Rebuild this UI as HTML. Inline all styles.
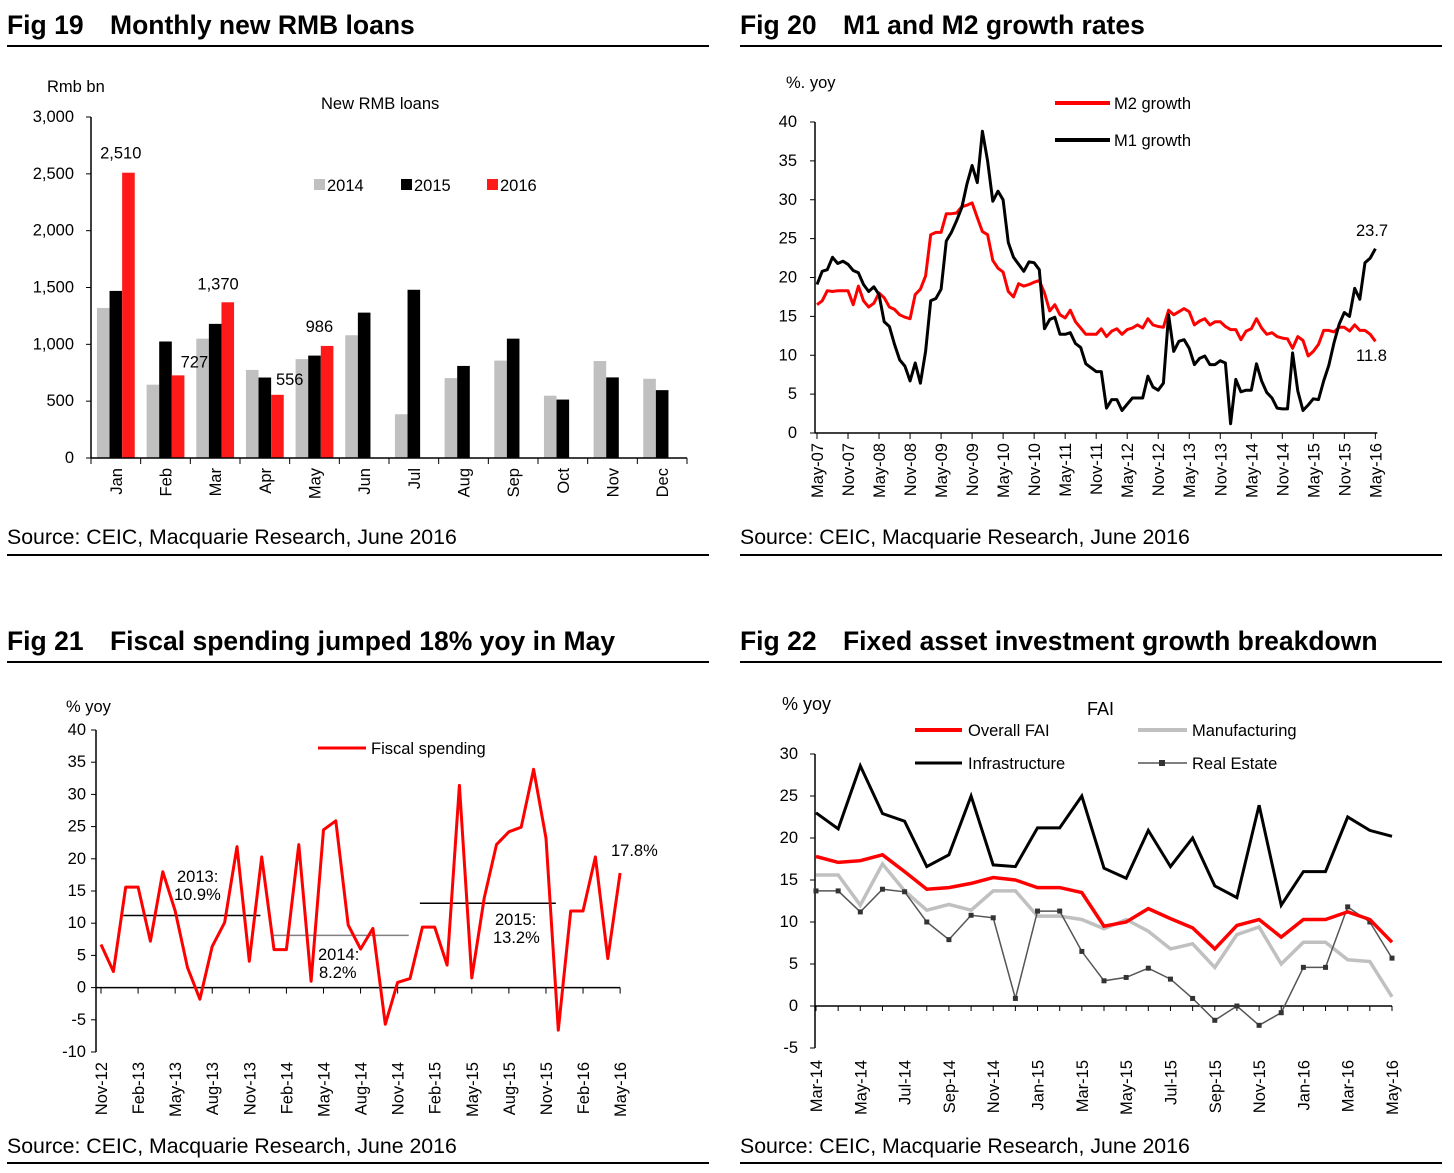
<!DOCTYPE html>
<html><head><meta charset="utf-8"><style>
html,body{margin:0;padding:0;background:#fff;}
svg{display:block;font-family:"Liberation Sans",Arial,sans-serif;}
.t{font-size:16.5px;fill:#000}
.h{font-size:26.5px;font-weight:bold;fill:#000}
.s{font-size:21.3px;fill:#000}
</style></head><body>
<svg id="svg" width="1454" height="1173" viewBox="0 0 1454 1173" xmlns="http://www.w3.org/2000/svg">
<g>
<text class="h" x="7" y="34">Fig 19</text>
<text class="h" x="110" y="34">Monthly new RMB loans</text>
<line x1="7" y1="46" x2="709" y2="46" stroke="#000" stroke-width="2"/>
<text class="s" x="7" y="544">Source: CEIC, Macquarie Research, June 2016</text>
<line x1="7" y1="555" x2="709" y2="555" stroke="#000" stroke-width="2"/>
</g>
<g>
<text class="h" x="740" y="34">Fig 20</text>
<text class="h" x="843" y="34">M1 and M2 growth rates</text>
<line x1="740" y1="46" x2="1442" y2="46" stroke="#000" stroke-width="2"/>
<text class="s" x="740" y="544">Source: CEIC, Macquarie Research, June 2016</text>
<line x1="740" y1="555" x2="1442" y2="555" stroke="#000" stroke-width="2"/>
</g>
<g>
<text class="h" x="7" y="650">Fig 21</text>
<text class="h" x="110" y="650">Fiscal spending jumped 18% yoy in May</text>
<line x1="7" y1="662" x2="709" y2="662" stroke="#000" stroke-width="2"/>
<text class="s" x="7" y="1153">Source: CEIC, Macquarie Research, June 2016</text>
<line x1="7" y1="1163" x2="709" y2="1163" stroke="#000" stroke-width="2"/>
</g>
<g>
<text class="h" x="740" y="650">Fig 22</text>
<text class="h" x="843" y="650">Fixed asset investment growth breakdown</text>
<line x1="740" y1="662" x2="1442" y2="662" stroke="#000" stroke-width="2"/>
<text class="s" x="740" y="1153">Source: CEIC, Macquarie Research, June 2016</text>
<line x1="740" y1="1163" x2="1442" y2="1163" stroke="#000" stroke-width="2"/>
</g>

<text class="t" x="47" y="92">Rmb bn</text>
<text class="t" x="321" y="109">New RMB loans</text>
<g>
<rect x="314" y="179" width="11" height="11" fill="#c0c0c0"/><text class="t" x="327" y="191">2014</text>
<rect x="401" y="179" width="11" height="11" fill="#000"/><text class="t" x="414" y="191">2015</text>
<rect x="487" y="179" width="11" height="11" fill="#ff1a1a"/><text class="t" x="500" y="191">2016</text>
</g>
<text class="t" x="786" y="88">%. yoy</text>
<g>
<line x1="1055" y1="103" x2="1110" y2="103" stroke="#ff0000" stroke-width="4"/><text class="t" x="1114" y="109">M2 growth</text>
<line x1="1055" y1="140" x2="1110" y2="140" stroke="#000" stroke-width="4"/><text class="t" x="1114" y="146">M1 growth</text>
</g>
<text class="t" x="1356" y="236">23.7</text>
<text class="t" x="1356" y="361">11.8</text>
<text class="t" x="66" y="712">% yoy</text>
<g>
<line x1="318" y1="748" x2="366" y2="748" stroke="#ff0000" stroke-width="3"/><text class="t" x="371" y="754">Fiscal spending</text>
</g>
<text class="t" x="611" y="856">17.8%</text>
<text class="t" x="177" y="882">2013:</text>
<text class="t" x="174" y="900">10.9%</text>
<text class="t" x="318" y="960">2014:</text>
<text class="t" x="319" y="978">8.2%</text>
<text class="t" x="495" y="925">2015:</text>
<text class="t" x="493" y="943">13.2%</text>
<text class="t" x="782" y="710" style="font-size:18px">% yoy</text>
<text class="t" x="1087" y="715" style="font-size:18px">FAI</text>
<g>
<line x1="915" y1="730" x2="962" y2="730" stroke="#ff0000" stroke-width="4"/><text class="t" x="968" y="736">Overall FAI</text>
<line x1="1138" y1="730" x2="1187" y2="730" stroke="#c0c0c0" stroke-width="4"/><text class="t" x="1192" y="736">Manufacturing</text>
<line x1="915" y1="763" x2="962" y2="763" stroke="#000" stroke-width="3"/><text class="t" x="968" y="769">Infrastructure</text>
<line x1="1138" y1="763" x2="1187" y2="763" stroke="#555" stroke-width="1.5"/><rect x="1159" y="760" width="6" height="6" fill="#333"/><text class="t" x="1192" y="769">Real Estate</text>
</g>
<g id="dyn"></g>
</svg>
<script>
// ---- Fig 19 data ----
const loanMonths=["Jan","Feb","Mar","Apr","May","Jun","Jul","Aug","Sep","Oct","Nov","Dec"];
const loans2014=[1320,645,1050,775,870,1080,385,703,857,548,853,697];
const loans2015=[1470,1025,1180,708,901,1279,1480,810,1050,514,709,597];
const loans2016=[2510,727,1370,556,986];
const loanTicks=[0,500,1000,1500,2000,2500,3000];
// ---- Fig 20 data ----
const m2Growth=[16.5,17.0,18.3,18.2,18.3,18.3,18.3,16.5,18.9,17.0,16.2,16.7,18.0,17.4,16.2,15.9,15.2,14.9,14.7,17.8,18.5,20.2,25.5,25.8,25.8,28.2,28.2,28.3,29.1,29.3,29.6,27.7,25.9,25.5,22.2,21.2,20.7,18.2,17.5,19.2,18.9,19.1,19.4,19.6,18.0,15.7,16.5,15.2,14.8,15.8,14.3,13.5,12.7,12.7,12.7,13.4,12.4,13.1,13.4,12.7,13.3,13.5,13.9,13.5,14.7,13.9,13.7,13.6,15.8,15.2,15.6,16.0,15.6,13.9,14.4,14.7,13.9,14.3,14.3,13.7,13.3,13.3,12.0,13.1,13.4,14.7,13.5,12.7,12.9,12.4,12.2,12.1,10.9,12.4,11.9,9.9,10.5,11.4,13.2,13.2,13.0,13.6,13.6,13.1,13.9,13.2,13.2,12.7,11.8];
const m1Growth=[19.1,20.8,21.0,22.6,21.8,22.1,21.7,20.9,20.6,19.1,18.2,18.8,17.8,14.3,13.7,11.4,9.4,8.6,6.7,9.0,6.4,10.5,17.0,17.3,18.5,24.7,25.8,27.3,29.0,32.0,34.4,32.2,38.8,35.0,29.8,31.1,30.0,24.5,22.6,21.7,20.8,22.0,21.9,21.0,13.4,14.6,14.9,12.7,12.7,12.9,11.5,11.0,8.9,8.4,7.9,7.9,3.2,4.3,4.3,2.9,3.7,4.5,4.5,4.5,7.3,5.9,5.5,6.4,15.2,10.5,11.8,12.0,10.9,8.8,9.6,9.9,8.8,8.8,9.3,9.0,1.2,6.9,5.3,5.5,5.5,8.9,6.7,5.2,4.5,3.2,3.1,3.1,10.3,5.4,2.9,3.6,4.4,4.3,6.7,8.7,11.6,14.0,15.5,15.0,18.6,17.2,21.9,22.5,23.7];
const mTickLabels=["May-07","Nov-07","May-08","Nov-08","May-09","Nov-09","May-10","Nov-10","May-11","Nov-11","May-12","Nov-12","May-13","Nov-13","May-14","Nov-14","May-15","Nov-15","May-16"];
const mYTicks=[0,5,10,15,20,25,30,35,40];
// ---- Fig 21 data ----
const fiscalSpending=[6.7,2.5,15.6,15.6,7.2,18.0,11.9,3.1,-1.8,6.4,10.1,21.9,4.1,20.3,5.9,5.9,22.2,1.0,24.5,25.9,9.7,6.0,9.2,-5.7,0.8,1.4,9.4,9.4,3.5,31.4,1.5,13.9,22.2,24.2,24.9,33.9,23.2,-6.6,11.9,11.9,20.3,4.5,17.8];
const fiscalTickLabels=["Nov-12","Feb-13","May-13","Aug-13","Nov-13","Feb-14","May-14","Aug-14","Nov-14","Feb-15","May-15","Aug-15","Nov-15","Feb-16","May-16"];
const fiscalYTicks=[-10,-5,0,5,10,15,20,25,30,35,40];
const avgValues=[11.2,8.1,13.1];
const avgStartIdx=[1.8,13.9,25.8];
const avgEndIdx=[12.9,24.9,36.8];
// ---- Fig 22 data ----
const faiOverall=[17.8,17.1,17.3,18.0,16.0,13.9,14.1,14.6,15.3,15.0,14.1,14.1,13.5,9.5,10.0,11.6,10.4,9.3,6.8,9.6,10.3,8.2,10.3,10.3,11.2,10.3,7.6];
const faiManufacturing=[15.6,15.6,12.0,16.9,13.7,11.4,12.1,11.4,13.7,13.7,10.7,10.7,10.3,9.2,10.3,8.9,6.8,7.4,4.6,8.5,9.4,5.0,7.6,7.6,5.5,5.3,1.1];
const faiInfrastructure=[23.0,21.1,28.6,22.9,22.0,16.6,18.0,25.0,16.8,16.6,21.2,21.2,25.0,16.4,15.2,20.9,16.6,20.0,14.3,12.9,23.9,12.0,16.0,16.0,22.5,20.9,20.2];
const faiRealEstate=[13.7,13.7,11.2,13.9,13.6,10.0,7.9,10.8,10.5,0.9,11.3,11.3,6.5,3.0,3.4,4.5,3.2,0.9,-1.7,0.0,-2.3,-0.8,4.6,4.6,11.8,10.0,5.7];
const faiTickLabels=["Mar-14","May-14","Jul-14","Sep-14","Nov-14","Jan-15","Mar-15","May-15","Jul-15","Sep-15","Nov-15","Jan-16","Mar-16","May-16"];
const faiYTicks=[-5,0,5,10,15,20,25,30];

const NS="http://www.w3.org/2000/svg";
const dyn=document.getElementById('dyn');
function mk(tag,attrs,parent){const e=document.createElementNS(NS,tag);for(const k in attrs)e.setAttribute(k,attrs[k]);(parent||dyn).appendChild(e);return e;}
function txt(x,y,s,anchor,parent,rot){const e=mk('text',{x:x,y:y,'class':'t','text-anchor':anchor||'start'},parent);if(rot)e.setAttribute('transform','rotate(-90 '+x+' '+y+')');e.textContent=s;return e;}
function pathFrom(vals,xf,yf){return vals.map((v,i)=>(i?'L':'M')+xf(i).toFixed(1)+','+yf(v).toFixed(1)).join('');}

// ===== Fig 19 =====
(function(){
 const g=mk('g',{});
 
 
 const x0=91,x1=687,yb=458,yt=117;
 const y=v=>yb-(v/3000)*(yb-yt);
 const cw=(x1-x0)/loanMonths.length;
 const cx=i=>x0+cw*(i+0.5);
 const bw=12.6;
 const series=[[loans2014,'#c0c0c0','bar-2014'],[loans2015,'#000','bar-2015'],[loans2016,'#ff1a1a','bar-2016']];
 series.forEach((s,si)=>{s[0].forEach((v,i)=>{
   const r=mk('rect',{x:cx(i)-1.5*bw+si*bw,y:y(v),width:bw,height:yb-y(v),fill:s[1]},g);
   
   
 });});
 mk('line',{x1:x0,y1:yt,x2:x0,y2:yb,stroke:'#000','stroke-width':1.5},g);
 mk('line',{x1:x0,y1:yb,x2:x1,y2:yb,stroke:'#000','stroke-width':1.5},g);
 loanTicks.forEach(t=>{mk('line',{x1:x0-5,y1:y(t),x2:x0,y2:y(t),stroke:'#000'},g);
   const l=txt(x0-17,y(t)+5,t.toLocaleString('en-US'),'end',g);
   
   });
 for(let i=0;i<=loanMonths.length;i++)mk('line',{x1:x0+cw*i,y1:yb,x2:x0+cw*i,y2:yb+6,stroke:'#000'},g);
 loanMonths.forEach((m,i)=>{const l=txt(cx(i)+6,yb+10,m,'end',g,true);
   
   });
 const off=[[-9,-14],[10,-8],[-16,-13],[6,-10],[-14,-14]];
 loans2016.forEach((v,i)=>{const l=txt(cx(i)+bw*1.5+off[i][0]-(i==0?5:0),y(v)+off[i][1],v.toLocaleString('en-US'),'middle',g);
   
   });
})();

// ===== Fig 20 =====
(function(){
 const g=mk('g',{});
 
 
 const x0=815,yb=433,yt=122,dx=5.17;
 const y=v=>yb-(v/40)*(yb-yt);
 const x=i=>x0+2+i*dx;
 mk('line',{x1:x0,y1:yt,x2:x0,y2:yb,stroke:'#000','stroke-width':1.5},g);
 mk('line',{x1:x0,y1:yb,x2:x(m1Growth.length-1)+2,y2:yb,stroke:'#000','stroke-width':1.5},g);
 mYTicks.forEach(t=>{mk('line',{x1:x0-5,y1:y(t),x2:x0,y2:y(t),stroke:'#000'},g);
   const l=txt(x0-18,y(t)+5,String(t),'end',g);
   
   });
 mTickLabels.forEach((s,k)=>{const xx=x(k*6);mk('line',{x1:xx,y1:yb,x2:xx,y2:yb+6,stroke:'#000'},g);
   const l=txt(xx+6,yb+10,s,'end',g,true);
   
   });
 const p2=mk('path',{d:pathFrom(m2Growth,x,y),fill:'none',stroke:'#ff0000','stroke-width':3,'stroke-linejoin':'round'},g);
 
 
 const p1=mk('path',{d:pathFrom(m1Growth,x,y),fill:'none',stroke:'#000','stroke-width':3,'stroke-linejoin':'round'},g);
 
 
})();

// ===== Fig 21 =====
(function(){
 const g=mk('g',{});
 
 
 const x0=96,yt=730,yb=1052,dx=12.36;
 const y=v=>yb-((v+10)/50)*(yb-yt);
 const x=i=>101+i*dx;
 mk('line',{x1:x0,y1:yt,x2:x0,y2:yb,stroke:'#000','stroke-width':1.5},g);
 fiscalYTicks.forEach(t=>{mk('line',{x1:x0-5,y1:y(t),x2:x0,y2:y(t),stroke:'#000'},g);
   const l=txt(x0-10,y(t)+5,String(t),'end',g);
   
   });
 mk('line',{x1:x0,y1:y(0),x2:x(fiscalSpending.length-1),y2:y(0),stroke:'#000','stroke-width':1.5},g);
 fiscalTickLabels.forEach((s,k)=>{const xx=x(k*3);mk('line',{x1:xx,y1:y(0),x2:xx,y2:y(0)+6,stroke:'#000'},g);
   const l=txt(xx+6,yb+10,s,'end',g,true);
   
   });
 const cols=['#000','#808080','#000'];
 avgValues.forEach((v,i)=>{const a=mk('line',{x1:x(avgStartIdx[i]),y1:y(v),x2:x(avgEndIdx[i]),y2:y(v),stroke:cols[i],'stroke-width':1.5},g);
   
   });
 const p=mk('path',{d:pathFrom(fiscalSpending,x,y),fill:'none',stroke:'#ff0000','stroke-width':3,'stroke-linejoin':'round'},g);
 
 
})();

// ===== Fig 22 =====
(function(){
 const g=mk('g',{});
 
 
 const x0=815,dx=(1392-816)/26;
 const y=v=>1006-v*8.4;
 const x=i=>816+i*dx;
 mk('line',{x1:x0,y1:y(30),x2:x0,y2:y(-5),stroke:'#000','stroke-width':1.5},g);
 faiYTicks.forEach(t=>{mk('line',{x1:x0-5,y1:y(t),x2:x0,y2:y(t),stroke:'#000'},g);
   const l=txt(x0-17,y(t)+5,String(t),'end',g);
   
   });
 mk('line',{x1:x0,y1:y(0),x2:x(26),y2:y(0),stroke:'#000','stroke-width':1.5},g);
 for(let i=0;i<27;i++)mk('line',{x1:x(i),y1:y(0),x2:x(i),y2:y(0)+5,stroke:'#000'},g);
 faiTickLabels.forEach((s,k)=>{const l=txt(x(k*2)+6,y(-5)+12,s,'end',g,true);
   
   });
 const p1=mk('path',{d:pathFrom(faiInfrastructure,x,y),fill:'none',stroke:'#000','stroke-width':3},g);
 
 
 const p2=mk('path',{d:pathFrom(faiManufacturing,x,y),fill:'none',stroke:'#c0c0c0','stroke-width':3.5},g);
 
 
 const p3=mk('path',{d:pathFrom(faiRealEstate,x,y),fill:'none',stroke:'#555','stroke-width':1.5},g);
 
 
 faiRealEstate.forEach((v,i)=>{const r=mk('rect',{x:x(i)-2.5,y:y(v)-2.5,width:5,height:5,fill:'#333'},g);
   
   });
 const p4=mk('path',{d:pathFrom(faiOverall,x,y),fill:'none',stroke:'#ff0000','stroke-width':3.5},g);
 
 
})();
</script>
</body></html>
